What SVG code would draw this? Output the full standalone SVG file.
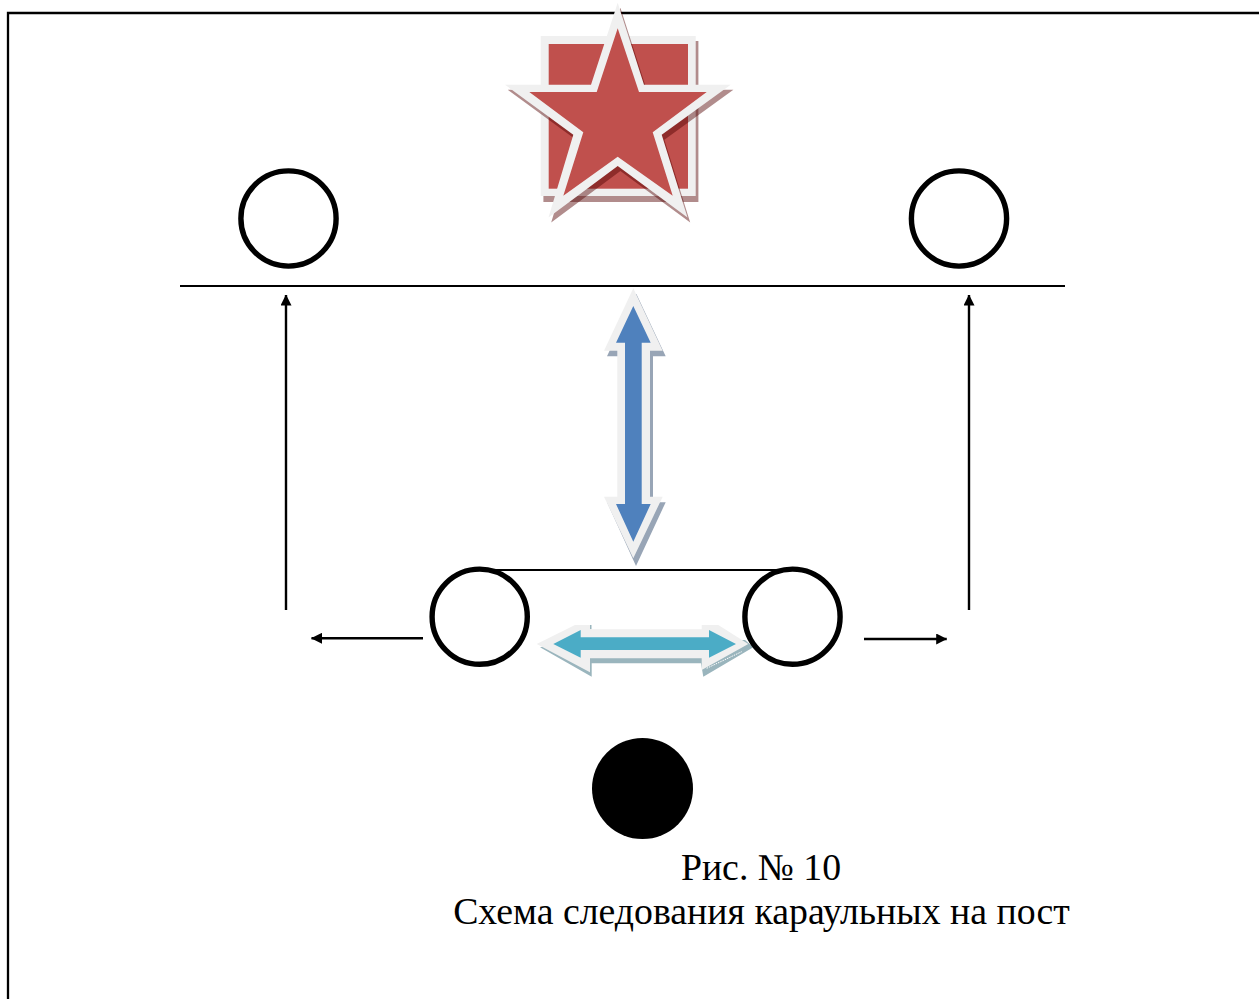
<svg xmlns="http://www.w3.org/2000/svg" width="1259" height="999" viewBox="0 0 1259 999">
<style>
.ring{fill:#fff;stroke:#000;stroke-width:5.4}
.line{stroke:#000;stroke-width:2;fill:none}
.thin{stroke:#000;stroke-width:2.4;fill:none;marker-end:url(#head)}
.halo{fill:#f0f0f0}
.redshadow{fill:#520000;fill-opacity:.45}
.red{fill:#c0504d}
text{font-family:"Liberation Serif","Times New Roman",serif;font-size:37.8px;fill:#000}
</style>
<defs>
<marker id="head" markerUnits="userSpaceOnUse" markerWidth="11" markerHeight="11" refX="10.5" refY="5.5" orient="auto"><path d="M0 0L11 5.5L0 11Z" fill="#000"/></marker>
</defs>
<rect width="1259" height="999" fill="#fff"/>
<path id="frame" d="M8 999V13H1259" fill="none" stroke="#000" stroke-width="2.3"/>
<g id="square">
<rect class="redshadow" x="543.4" y="41" width="155" height="161"/>
<rect class="halo" x="540.7" y="36" width="155" height="160"/>
<rect class="red" x="548.7" y="44" width="139.3" height="144.7"/>
</g>
<g id="star">
<polygon class="redshadow" transform="translate(2.7,5)" points="617.7,2.7 644,84.7 730.7,84.7 661.7,134.7 687.5,217.5 617.7,166 548.5,217.5 573.3,134.7 505,84.7 591,84.7"/>
<polygon class="halo" points="617.7,2.7 644,84.7 730.7,84.7 661.7,134.7 687.5,217.5 617.7,166 548.5,217.5 573.3,134.7 505,84.7 591,84.7"/>
<polygon class="red" points="617.7,28.3 639,92 706.7,92 652.7,132.3 672.7,195.7 617.7,156.7 563.3,195.7 583.3,132.3 529.3,92 596.7,92"/>
</g>
<g id="connectors">
<path class="line" d="M180 286H1065"/>
<path class="line" d="M495 570H780"/>
<path class="thin" d="M286 610V295"/>
<path class="thin" d="M969 610V295"/>
<path class="thin" d="M423 638.3H311.5"/>
<path class="thin" d="M864 639H946.7"/>
</g>
<g id="arrow-vertical">
<polygon fill="#98a5b6" points="636.3,293.8 665.7,356.2 653,356.2 653,502.2 665.7,502.2 636,566 607,502.2 620.3,502.2 620.3,356.2 607,356.2"/>
<polygon class="halo" points="633.3,288.3 662.7,350.7 650,350.7 650,496.7 662.7,496.7 633.3,558.3 604,496.7 617.3,496.7 617.3,350.7 604,350.7"/>
<polygon fill="#4f81bd" points="633.3,306 650.7,342.7 641.7,342.7 641.7,504 650.7,504 633.3,541.7 616,504 625,504 625,342.7 616,342.7"/>
</g>
<g id="arrow-horizontal">
<rect x="589" y="625" width="2.5" height="4.3" fill="#9ab5bd"/>
<polygon fill="#9ab5bd" points="540,647.3 591.7,676.7 591.7,663.3 701,663.3 703.3,676.7 753.3,647.3 745,640 590,640"/>
<polygon class="halo" points="536.7,644 575,625 590,625 590,629.3 701.7,629.3 701.7,625 718.3,625 748.3,644 701.7,670 701.7,658.3 590,658.3 590,672.3"/>
<polygon fill="#4bacc6" points="553.3,644 580.7,630 580.7,637.3 709,637.3 709,630 736,644 709,657.7 709,650 580.7,650 580.7,657.7"/>
<path d="M706.7 668.3L741.7 651.7" stroke="#fff" stroke-width="1" stroke-dasharray="1.5 1" fill="none"/>
</g>
<circle id="post-top-left" class="ring" cx="288.5" cy="218.5" r="47.6"/>
<circle id="post-top-right" class="ring" cx="959" cy="218.5" r="47.6"/>
<circle id="post-bottom-left" class="ring" cx="479.7" cy="616.7" r="47.6"/>
<circle id="post-bottom-right" class="ring" cx="792.5" cy="616.7" r="47.6"/>
<circle id="guard" cx="642.5" cy="788.5" r="50.5" fill="#000"/>
<g id="caption">
<text x="761" y="880" text-anchor="middle">Рис. № 10</text>
<text x="761.5" y="924" text-anchor="middle">Схема следования караульных на пост</text>
</g>
</svg>
